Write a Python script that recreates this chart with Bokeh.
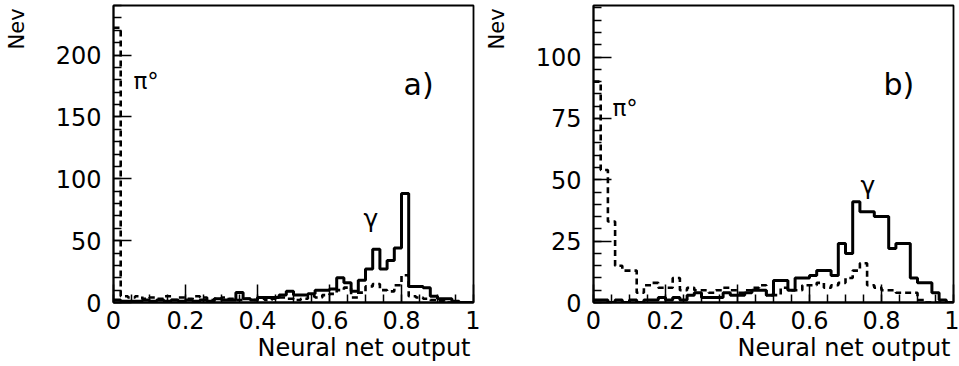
import numpy as np
from bokeh.plotting import figure
from bokeh.layouts import row
from bokeh.models import FixedTicker, Label, Range1d, CustomJSTickFormatter, Title
from bokeh.embed import file_html
from bokeh.resources import INLINE

# ---------------- data (bins of width 0.02 from 0 to 1) ----------------
bin_width = 0.02

gamma_a = [2, 1, 1, 1, 2, 1, 2, 1, 2, 1,
           2, 1, 2, 1, 3, 2, 2, 8, 3, 2,
           4, 4, 4, 6, 9, 6, 6, 7, 10, 10,
           11, 20, 16, 9, 18, 27, 43, 27, 34, 44,
           88, 13, 13, 12, 5, 3, 3, 1, 0, 0]
pi0_a = [222, 5, 4, 5, 3, 4, 3, 5, 2, 4,
         3, 5, 4, 2, 3, 4, 3, 2, 3, 2,
         3, 2, 3, 4, 3, 2, 3, 5, 4, 6,
         7, 10, 12, 4, 8, 13, 15, 10, 9, 14,
         22, 5, 4, 3, 2, 1, 0, 0, 0, 0]

gamma_b = [1, 1, 0, 1, 0, 1, 0, 1, 1, 2,
           1, 2, 1, 3, 4, 2, 2, 2, 4, 3,
           3, 4, 5, 5, 3, 9, 9, 5, 10, 10,
           11, 13, 13, 11, 24, 20, 41, 37, 37, 35,
           35, 22, 24, 24, 10, 8, 8, 4, 1, 0]
pi0_b = [90, 54, 33, 15, 13, 13, 4, 7, 8, 6,
         6, 10, 5, 6, 5, 5, 4, 5, 6, 5,
         4, 5, 6, 7, 3, 3, 6, 5, 5, 7,
         7, 8, 6, 7, 8, 10, 13, 16, 7, 6,
         5, 5, 4, 4, 4, 1, 0, 0, 0, 0]

x_ticks = [0, 0.2, 0.4, 0.6, 0.8, 1]
x_minor = [0.05 * i for i in range(21)]
y_ticks_a = [0, 50, 100, 150, 200]
y_minor_a = list(range(0, 241, 10))
y_ticks_b = [0, 25, 50, 75, 100]
y_minor_b = list(range(0, 121, 5))
y_max_a = 240
y_max_b = 121
panel_tags = ["a)", "b)"]
x_title = "Neural net output"
y_title = "Nev"
pi_text = "\u03c0\u00b0"
gamma_text = "\u03b3"

FONT = "DejaVu Sans"
FRAME_L, FRAME_R, FRAME_T, FRAME_B = 113, 473, 5, 302


def make_panel(gamma, pi0, ymax, yticks, yminor, tag, width,
               pi_px, tag_px, gam_px):
    p = figure(width=width, height=366, x_range=Range1d(0, 1), y_range=Range1d(0, ymax),
               output_backend="svg", toolbar_location=None,
               min_border_left=FRAME_L, min_border_right=width - FRAME_R,
               min_border_top=FRAME_T, min_border_bottom=366 - FRAME_B)
    p.grid.visible = False
    p.outline_line_color = "black"
    p.outline_line_width = 1.8
    p.background_fill_color = "white"
    p.border_fill_color = "white"

    def dx(px):
        return (px - FRAME_L) / (FRAME_R - FRAME_L)

    def dy(py):
        return (FRAME_B - py) * ymax / (FRAME_B - FRAME_T)

    edges = np.arange(len(gamma) + 1) * bin_width
    p.step(edges, list(pi0) + [pi0[-1]], mode="after", line_width=2.6,
           line_color="black", line_dash="6 4")
    p.step(edges, list(gamma) + [gamma[-1]], mode="after", line_width=3,
           line_color="black")

    for ax in (p.xaxis[0], p.yaxis[0]):
        ax.axis_line_width = 1.8
        ax.major_tick_in = 18
        ax.major_tick_out = 0
        ax.minor_tick_in = 8
        ax.minor_tick_out = 0
        ax.major_tick_line_width = 1.5
        ax.minor_tick_line_width = 1.5
        ax.major_label_text_font = FONT
        ax.major_label_text_font_size = "24px"
        ax.major_label_text_color = "black"
    p.xaxis.ticker = FixedTicker(ticks=x_ticks, minor_ticks=x_minor)
    p.xaxis.formatter = CustomJSTickFormatter(code="return String(Math.round(tick*10)/10)")
    p.xaxis.major_label_standoff = 8
    p.yaxis.ticker = FixedTicker(ticks=yticks, minor_ticks=yminor)
    p.yaxis.major_label_standoff = 12

    p.add_layout(Title(text=x_title, align="right", text_font=FONT, text_font_size="24px",
                       text_font_style="normal", text_color="black", standoff=0,
                       offset=3), "below")
    # y title: the label is centred on the top end of the axis, so pad it with
    # non-breaking spaces to push the visible word down into the canvas
    yax = p.yaxis[0]
    yax.axis_label = y_title + "\u00a0" * 7
    yax.axis_label_text_font = FONT
    yax.axis_label_text_font_size = "21px"
    yax.axis_label_text_font_style = "normal"
    yax.axis_label_text_color = "black"
    yax.axis_label_standoff = 24
    yax.axis_label_align = "end"

    def lab(px, py, text, size, **kw):
        p.add_layout(Label(x=dx(px), y=dy(py), text=text, text_font=FONT,
                           text_font_size=size, text_color="black", **kw))

    lab(pi_px[0], pi_px[1], pi_text, "23px", text_align="left", text_baseline="alphabetic")
    lab(tag_px[0], tag_px[1], tag, "30px", text_align="left", text_baseline="alphabetic")
    lab(gam_px[0], gam_px[1], gamma_text, "25px", text_align="left", text_baseline="alphabetic")
    return p


pa = make_panel(gamma_a, pi0_a, y_max_a, y_ticks_a, y_minor_a, panel_tags[0], 480,
                (133, 80), (403, 84), (363, 218))
pb = make_panel(gamma_b, pi0_b, y_max_b, y_ticks_b, y_minor_b, panel_tags[1], 479,
                (132, 107), (403, 84), (380, 185))

layout = row(pa, pb)
open("out.html", "w").write(file_html(layout, INLINE))
